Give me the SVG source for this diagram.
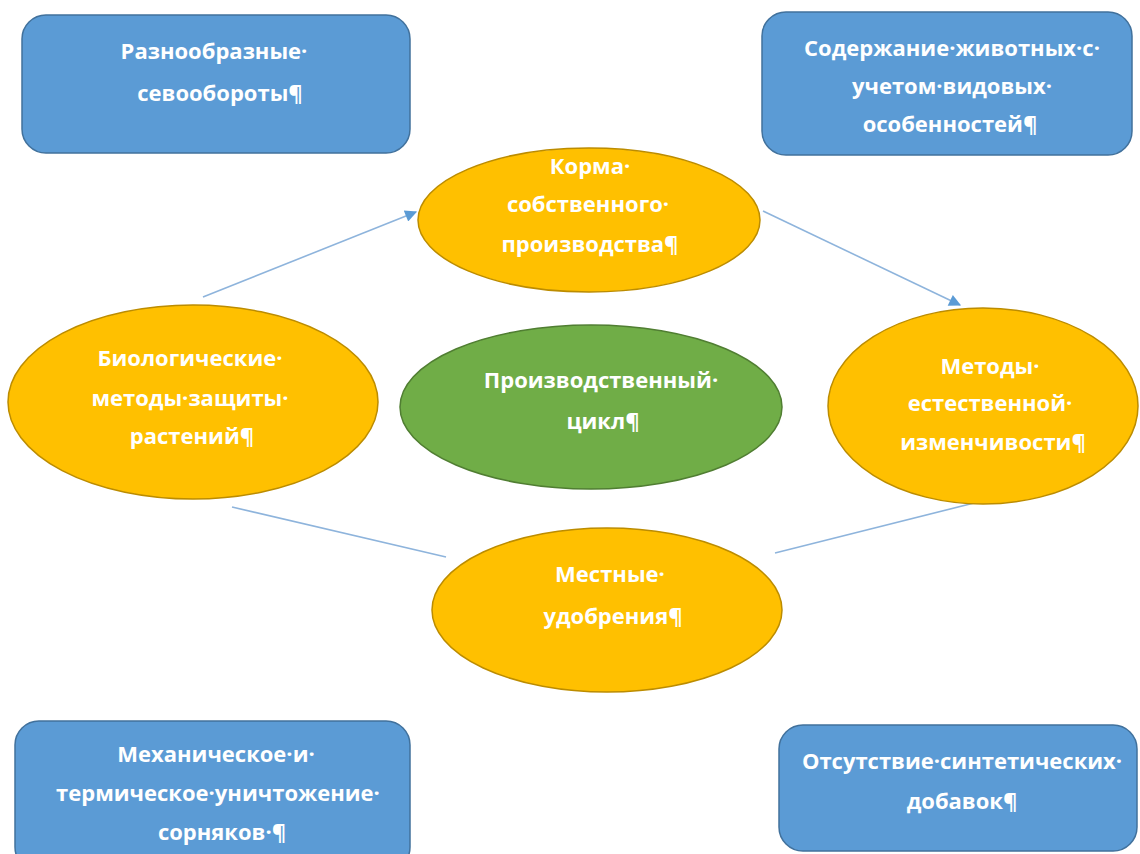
<svg xmlns="http://www.w3.org/2000/svg" width="1140" height="854" viewBox="0 0 1140 854">
<defs>
<style>
.box{fill:#5b9bd5;stroke:#41719c;stroke-width:1.5}
.ell{fill:#ffc000;stroke:#bc8c00;stroke-width:1.5}
.grn{fill:#70ad47;stroke:#507e32;stroke-width:1.5}
.t{font-family:"Open Sans","Liberation Sans",sans-serif;font-weight:700;font-size:22px;fill:#ffffff;text-anchor:middle}
.ln{stroke:#8eb4dc;stroke-width:1.6;fill:none}
</style>
<marker id="ah" viewBox="0 0 10 10" refX="9" refY="5" markerWidth="15" markerHeight="12" orient="auto" markerUnits="userSpaceOnUse">
<path d="M0,0 L10,5 L0,10 z" fill="#5b9bd5"/>
</marker>
</defs>
<rect width="1140" height="854" fill="#ffffff"/>
<g id="connectors">
<line class="ln" x1="203" y1="297" x2="416" y2="212" marker-end="url(#ah)"/>
<line class="ln" x1="763" y1="211" x2="960" y2="305" marker-end="url(#ah)"/>
<line class="ln" x1="232" y1="507" x2="446" y2="557"/>
<line class="ln" x1="775" y1="553" x2="978" y2="502"/>
</g>
<g id="box-tl">
<rect class="box" x="22" y="15" width="388" height="138" rx="24"/>
<text class="t" x="214" y="59">Разнообразные·</text>
<text class="t" x="220" y="101">севообороты¶</text>
</g>
<g id="box-tr">
<rect class="box" x="762" y="12" width="370" height="143" rx="24"/>
<text class="t" x="952" y="56">Содержание·животных·с·</text>
<text class="t" x="952" y="94">учетом·видовых·</text>
<text class="t" x="950" y="132">особенностей¶</text>
</g>
<g id="ell-top">
<ellipse class="ell" cx="589" cy="220" rx="171" ry="72"/>
<text class="t" x="590" y="174">Корма·</text>
<text class="t" x="588" y="212">собственного·</text>
<text class="t" x="590" y="252">производства¶</text>
</g>
<g id="ell-left">
<ellipse class="ell" cx="193" cy="402" rx="185" ry="97"/>
<text class="t" x="190" y="366">Биологические·</text>
<text class="t" x="190" y="406">методы·защиты·</text>
<text class="t" x="192" y="444">растений¶</text>
</g>
<g id="ell-center">
<ellipse class="grn" cx="591" cy="407" rx="191" ry="82"/>
<text class="t" x="601" y="388">Производственный·</text>
<text class="t" x="603" y="429">цикл¶</text>
</g>
<g id="ell-right">
<ellipse class="ell" cx="983" cy="406" rx="155" ry="98"/>
<text class="t" x="990" y="374">Методы·</text>
<text class="t" x="990" y="411">естественной·</text>
<text class="t" x="993" y="450">изменчивости¶</text>
</g>
<g id="ell-bottom">
<ellipse class="ell" cx="607" cy="610" rx="175" ry="82"/>
<text class="t" x="610" y="582">Местные·</text>
<text class="t" x="613" y="624">удобрения¶</text>
</g>
<g id="box-bl">
<rect class="box" x="15" y="721" width="395" height="150" rx="24"/>
<text class="t" x="216" y="762">Механическое·и·</text>
<text class="t" x="218" y="801">термическое·уничтожение·</text>
<text class="t" x="222" y="840">сорняков·¶</text>
</g>
<g id="box-br">
<rect class="box" x="779" y="725" width="358" height="126" rx="24"/>
<text class="t" x="962" y="769">Отсутствие·синтетических·</text>
<text class="t" x="962" y="809">добавок¶</text>
</g>
</svg>
